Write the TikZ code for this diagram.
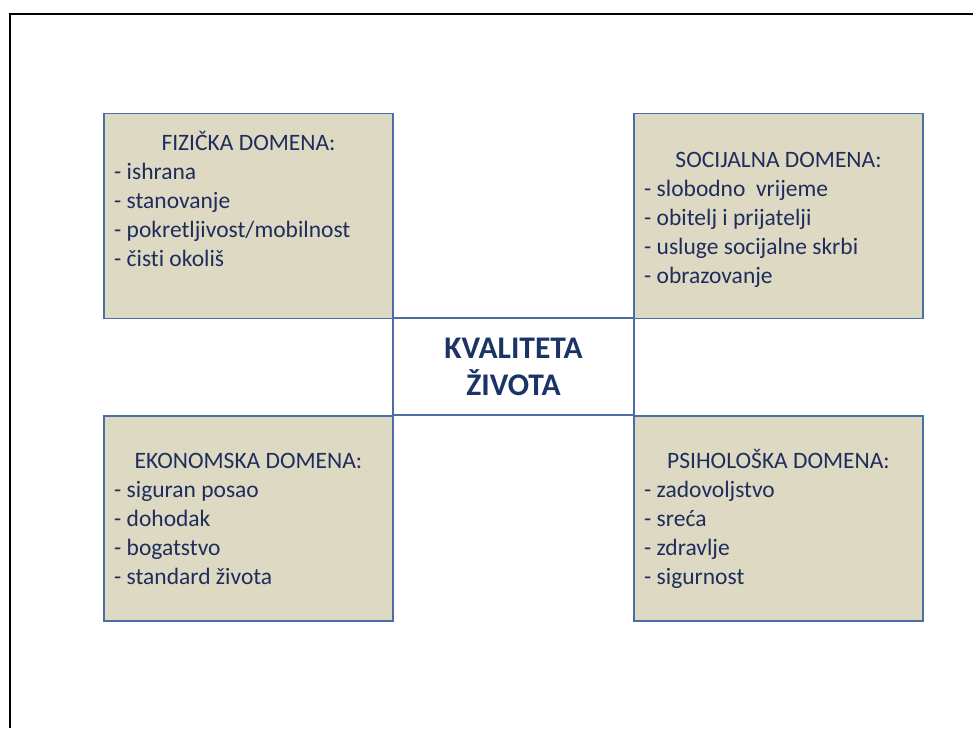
\documentclass[tikz,border=0pt]{standalone}
\usepackage{fontspec}
\setmainfont[Ligatures=NoCommon]{Carlito}
\definecolor{boxfill}{HTML}{DDD9C3}
\definecolor{boxline}{HTML}{4A6FA5}
\definecolor{txt}{HTML}{1F2D5C}
\definecolor{ttl}{HTML}{1B3468}
\newcommand{\domainbox}[9]{%
  \node[dombox] (#1) at (#2,#3) {};
  \node[dtext, anchor=base] (#1-t) at (#2,#4) {#5};
  \node[dtext, anchor=base west] (#1-a) at (#2-134.5,#4+29) {- #6};
  \node[dtext, anchor=base west] (#1-b) at (#2-134.5,#4+58) {- #7};
  \node[dtext, anchor=base west] (#1-c) at (#2-134.5,#4+87) {- #8};
  \node[dtext, anchor=base west] (#1-d) at (#2-134.5,#4+116) {- #9};
}
\begin{document}
\begin{tikzpicture}[x=1pt,y=-1pt,
  dombox/.style={draw=boxline, fill=boxfill, line width=1.6pt, minimum width=289pt, minimum height=205pt, inner sep=0pt},
  centrebox/.style={draw=boxline, line width=1.6pt, minimum width=241pt, minimum height=97pt, inner sep=0pt},
  dtext/.style={inner sep=0pt, text=txt, font=\fontsize{23.5}{28}\selectfont},
  ctext/.style={inner sep=0pt, text=ttl, font=\fontsize{31.5}{38}\selectfont\bfseries},
  frameline/.style={line width=2pt, black}]
\useasboundingbox (0,0) rectangle (973,728);
\coordinate (fb) at (10,728);
\coordinate (fc) at (10,14);
\coordinate (fr) at (973,14);
\draw[frameline] (fb) -- (fc) -- (fr);
\node[centrebox] (centre) at (513.5,366.5) {};
\node[ctext, anchor=base] (c1) at (513.5,358) {KVALITETA};
\node[ctext, anchor=base] (c2) at (513.5,395) {ŽIVOTA};
\domainbox{fiz}{248.5}{216}{150}{FIZIČKA DOMENA:}{ishrana}{stanovanje}{pokretljivost/mobilnost}{čisti okoliš}
\domainbox{soc}{778.5}{216}{167}{SOCIJALNA DOMENA:}{slobodno\ \ vrijeme}{obitelj i prijatelji}{usluge socijalne skrbi}{obrazovanje}
\domainbox{eko}{248.5}{518.5}{468}{EKONOMSKA DOMENA:}{siguran posao}{dohodak}{bogatstvo}{standard života}
\domainbox{psi}{778.5}{518.5}{468}{PSIHOLOŠKA DOMENA:}{zadovoljstvo}{sreća}{zdravlje}{sigurnost}
\end{tikzpicture}
\end{document}
